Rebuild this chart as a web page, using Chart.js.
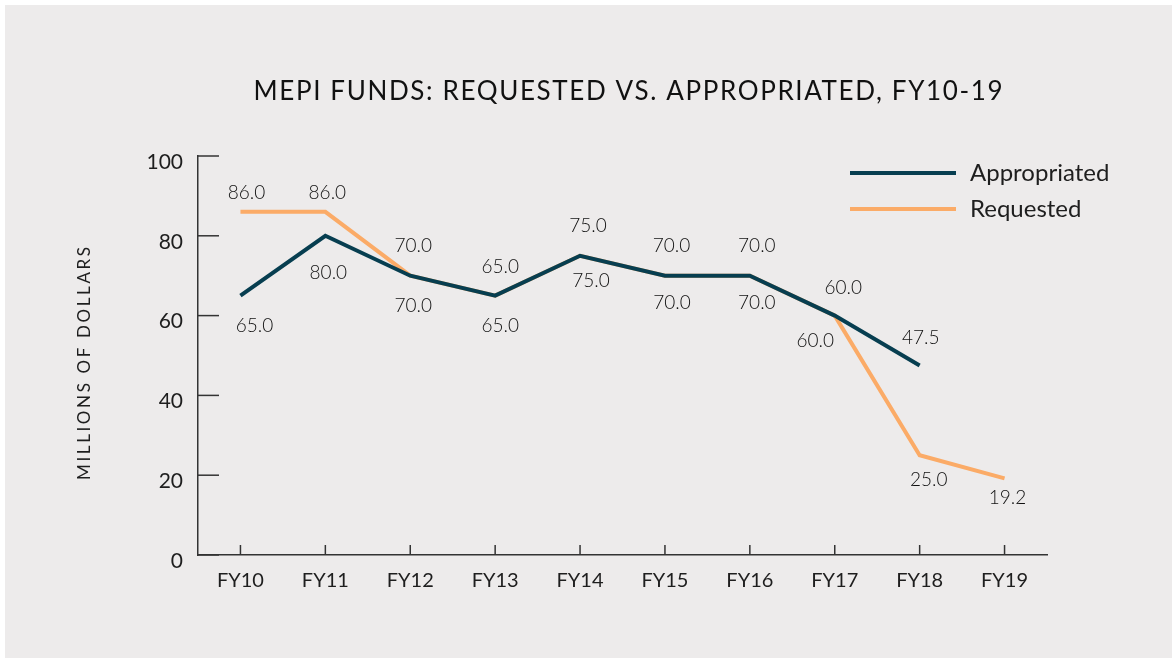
<!DOCTYPE html>
<html>
<head>
<meta charset="utf-8">
<script src="https://cdn.jsdelivr.net/npm/chart.js@4.4.1/dist/chart.umd.min.js"></script>
<style>
  html, body { margin: 0; padding: 0; background: #ffffff; }
  #panel { position: absolute; left: 5px; top: 5px; width: 1167px; height: 653px; background: #edebeb; }
  canvas { display: block; }
</style>
</head>
<body>
<div id="panel"><canvas id="mepiChart" width="1167" height="653"></canvas></div>
<script>
// data
const years = ["FY10", "FY11", "FY12", "FY13", "FY14", "FY15", "FY16", "FY17", "FY18", "FY19"];
const appropriated = [65, 80, 70, 65, 75, 70, 70, 60, 47.5, null];
const requested = [86, 86, 70, 65, 75, 70, 70, 60, 25, 19.2];
const yTicks = [0, 20, 40, 60, 80, 100];

// nudges (px) for each value label relative to its point
const apprDx = [14, 3, 3, 5, 8, 6.5, 7, 8.5, 1, 0];
const apprDy = [30.5, 37, -29.5, -28.5, -30, -29.5, -29.5, -28, -28, 0];
const reqDx = [6, 2, 3, 5, 11, 7, 7, -19.5, 9, 3];
const reqDy = [-19, -19, 30.5, 30.5, 25, 27, 27, 25, 25, 19.5];

const FONT = "Lato, 'Open Sans', sans-serif";
const INK = "#1e1e1e";
const AXIS = "#333333";

// draw text stretched by letter spacing so it spans a given width
function spacedText(ctx, text, cx, cy, width) {
  ctx.letterSpacing = "0px";
  const w = ctx.measureText(text).width;
  const ls = (width - w) / (text.length - 1);
  ctx.letterSpacing = ls + "px";
  ctx.textAlign = "left";
  ctx.fillText(text, cx - width / 2, cy);
  ctx.letterSpacing = "0px";
}

const decorations = {
  id: "decorations",
  afterDraw(chart) {
    const ctx = chart.ctx;
    const x = chart.scales.x, y = chart.scales.y;
    const area = chart.chartArea;
    ctx.save();
    // tick marks point into the plot
    ctx.strokeStyle = AXIS;
    ctx.lineWidth = 1.5;
    y.ticks.forEach((t, i) => {
      const py = y.getPixelForTick(i);
      ctx.beginPath();
      ctx.moveTo(area.left, py);
      ctx.lineTo(area.left + 21, py);
      ctx.stroke();
    });
    x.ticks.forEach((t, i) => {
      const px = x.getPixelForTick(i);
      ctx.beginPath();
      ctx.moveTo(px, area.bottom);
      ctx.lineTo(px, area.bottom - 10);
      ctx.stroke();
    });

    ctx.fillStyle = "#111111";
    ctx.textBaseline = "middle";

    // title
    ctx.font = "26px " + FONT;
    spacedText(ctx, "MEPI FUNDS: REQUESTED VS. APPROPRIATED, FY10-19", 623, 87, 749);

    // y axis title
    ctx.save();
    ctx.fillStyle = INK;
    ctx.font = "17px " + FONT;
    ctx.translate(80, (area.top + area.bottom) / 2 + 8);
    ctx.rotate(-Math.PI / 2);
    spacedText(ctx, "MILLIONS OF DOLLARS", 0, 0, 233);
    ctx.restore();

    // legend
    ctx.font = "24px " + FONT;
    ctx.textAlign = "left";
    chart.data.datasets.forEach((ds, i) => {
      const ly = 168 + i * 36;
      ctx.strokeStyle = ds.borderColor;
      ctx.lineWidth = 4;
      ctx.beginPath();
      ctx.moveTo(845, ly);
      ctx.lineTo(951, ly);
      ctx.stroke();
      ctx.fillStyle = INK;
      ctx.fillText(ds.label, 965, ly);
    });
    ctx.restore();
  },
  afterDatasetsDraw(chart) {
    const ctx = chart.ctx;
    const dxs = [apprDx, reqDx];
    const dys = [apprDy, reqDy];
    ctx.save();
    ctx.font = "300 19px " + FONT;
    ctx.fillStyle = "#111111";
    ctx.textAlign = "center";
    ctx.textBaseline = "middle";
    chart.data.datasets.forEach((ds, di) => {
      const meta = chart.getDatasetMeta(di);
      meta.data.forEach((pt, i) => {
        const v = ds.data[i];
        if (v === null || v === undefined) return;
        ctx.fillText(v.toFixed(1), pt.x + dxs[di][i], pt.y + dys[di][i]);
      });
    });
    ctx.restore();
  }
};

const ctx = document.getElementById("mepiChart").getContext("2d");
new Chart(ctx, {
  type: "line",
  data: {
    labels: years,
    datasets: [{
      label: "Appropriated",
      data: appropriated,
      borderColor: "#073e50",
      backgroundColor: "#073e50",
      borderWidth: 4,
      pointRadius: 0,
      tension: 0
    }, {
      label: "Requested",
      data: requested,
      borderColor: "#fbab67",
      backgroundColor: "#fbab67",
      borderWidth: 4,
      pointRadius: 0,
      tension: 0
    }]
  },
  options: {
    responsive: false,
    animation: false,
    layout: { padding: { left: 0, right: 125, top: 151, bottom: 0 } },
    plugins: {
      legend: { display: false },
      tooltip: { enabled: false },
      title: { display: false }
    },
    scales: {
      x: {
        offset: true,
        grid: { display: false, drawTicks: false },
        border: { display: true, color: AXIS, width: 1.5 },
        ticks: {
          color: INK,
          font: { family: FONT, size: 20 },
          padding: 14,
          maxRotation: 0,
          autoSkip: false
        },
        afterFit(scale) { scale.height = 103; }
      },
      y: {
        min: 0,
        max: 100,
        afterBuildTicks(scale) { scale.ticks = yTicks.map(v => ({ value: v })); },
        grid: { display: false, drawTicks: false },
        border: { display: true, color: AXIS, width: 1.5 },
        ticks: {
          color: INK,
          font: { family: FONT, size: 21 },
          padding: 15,
          labelOffset: 6
        },
        afterFit(scale) { scale.width = 193; }
      }
    }
  },
  plugins: [decorations]
});
</script>
</body>
</html>
